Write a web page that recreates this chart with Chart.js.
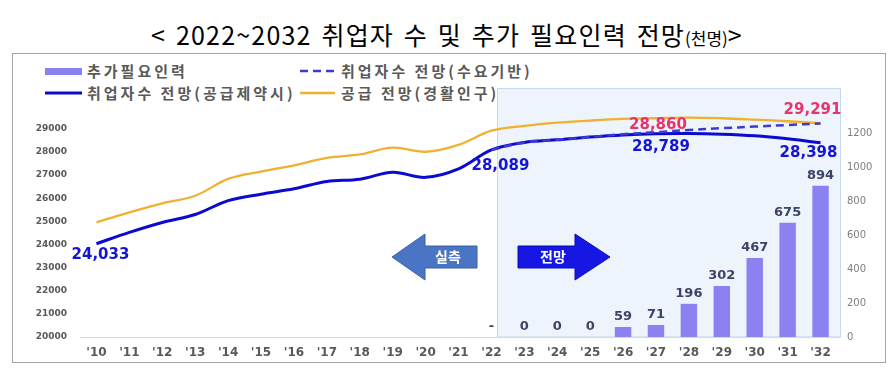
<!DOCTYPE html>
<html><head><meta charset="utf-8">
<script src="https://cdn.jsdelivr.net/npm/chart.js@4"></script>
<style>
body{margin:0;background:#fff;}
#wrap{position:relative;width:894px;height:370px;overflow:hidden;font-family:"Noto Sans CJK KR",sans-serif;}
#frame{position:absolute;left:12px;top:53px;width:874px;height:310px;border:1px solid #a6a6a6;box-sizing:border-box;}
#title{position:absolute;left:0;top:17px;width:894px;text-align:center;font-size:25px;color:#000;line-height:34px;white-space:nowrap;letter-spacing:1.2px;word-spacing:3px;}
#title small{font-size:17px;letter-spacing:0;}
.lg{position:absolute;font-size:15px;font-weight:700;color:#595959;letter-spacing:3px;line-height:20px;white-space:nowrap;}
canvas{position:absolute;left:0;top:0;}
</style></head>
<body>
<div id="wrap">
  <div id="frame"></div>
  <div id="title">&lt; 2022~2032 취업자 수 및 추가 필요인력 전망<small>(천명)</small>&gt;</div>
  <div class="lg" style="left:87px;top:61px;">추가필요인력</div>
  <div class="lg" style="left:341px;top:61px;">취업자수 전망(수요기반)</div>
  <div class="lg" style="left:87px;top:83px;">취업자수 전망(공급제약시)</div>
  <div class="lg" style="left:341px;top:83px;">공급 전망(경활인구)</div>
  <canvas id="c" width="894" height="370"></canvas>
</div>
<script>
const categories = ["'10","'11","'12","'13","'14","'15","'16","'17","'18","'19","'20","'21","'22","'23","'24","'25","'26","'27","'28","'29","'30","'31","'32"];
const employedSupplyConstrained = [24033,24527,24955,25299,25897,26178,26409,26725,26822,27123,26904,27273,28089,28416,28530,28650,28740,28789,28800,28770,28700,28570,28398];
const employedDemandBased = [null,null,null,null,null,null,null,null,null,null,null,null,28089,28416,28530,28650,28770,28860,28950,29030,29100,29170,29230];
const laborSupply = [24956,25389,25781,26108,26836,27153,27418,27748,27895,28186,28012,28310,28922,29130,29270,29360,29430,29460,29490,29460,29400,29330,29245];
const additionalNeed = [null,null,null,null,null,null,null,null,null,null,null,null,null,0,0,0,59,71,196,302,467,675,894];
const barLabels = ["","","","","","","","","","","","","-","0","0","0","59","71","196","302","467","675","894"];
const leftTicks = [20000,21000,22000,23000,24000,25000,26000,27000,28000,29000];
const rightTicks = [0,200,400,600,800,1000,1200];
const lineLabels = [
  {ds:1, i:0,  text:"24,033", color:"#1414d6", dx:4,   dy:11},
  {ds:1, i:12, text:"28,089", color:"#1414d6", dx:9,   dy:16},
  {ds:1, i:17, text:"28,789", color:"#1414d6", dx:5,   dy:13},
  {ds:1, i:22, text:"28,398", color:"#1414d6", dx:-12, dy:10},
  {ds:2, i:17, text:"28,860", color:"#e8336d", dx:2,   dy:-7},
  {ds:2, i:22, text:"29,291", color:"#e8336d", dx:-8,  dy:-13}
];

function arrow(ctx, pts, fill, stroke){
  ctx.beginPath();
  pts.forEach((p,k)=>k?ctx.lineTo(p[0],p[1]):ctx.moveTo(p[0],p[1]));
  ctx.closePath();
  ctx.fillStyle=fill; ctx.fill();
  ctx.strokeStyle=stroke; ctx.lineWidth=1; ctx.stroke();
}

const decor = {
  id:'decor',
  beforeDatasetsDraw(chart){
    const {ctx, chartArea, scales:{x}} = chart;
    const left = Math.round(x.getPixelForValue(12)+6)+0.5;
    const right = chartArea.right+3.5;
    ctx.save();
    ctx.fillStyle='#eef4fb';
    ctx.fillRect(left,88.5,right-left,337-88.5);
    ctx.strokeStyle='#c6d9f0'; ctx.lineWidth=1;
    ctx.strokeRect(left,88.5,right-left,337-88.5);
    ctx.beginPath(); ctx.moveTo(chartArea.left,337.5); ctx.lineTo(right,337.5);
    ctx.strokeStyle='#d9d9d9'; ctx.stroke();
    ctx.restore();
  },
  afterDatasetsDraw(chart){
    const {ctx, scales:{x,y2}} = chart;
    ctx.save();
    arrow(ctx, [[392,257],[425,234],[425,246],[477,246],[477,268],[425,268],[425,280]], '#4a74c4', '#3b62a8');
    arrow(ctx, [[518,246],[575,246],[575,234],[610,257],[575,280],[575,268],[518,268]], '#1717e3', '#0d0db8');
    ctx.fillStyle='#fff'; ctx.font='bold 14px "Noto Sans CJK KR"';
    ctx.textAlign='center'; ctx.textBaseline='middle';
    ctx.fillText('실측',448,257);
    ctx.fillText('전망',553,257);
    ctx.font='bold 13px "DejaVu Sans"'; ctx.fillStyle='#3a4466';
    barLabels.forEach((t,i)=>{
      if(!t) return;
      const v = additionalNeed[i]||0;
      ctx.fillText(t, x.getPixelForValue(i), y2.getPixelForValue(v)-10);
    });
    ctx.font='bold 15px "DejaVu Sans"';
    lineLabels.forEach(l=>{
      const el = chart.getDatasetMeta(l.ds).data[l.i];
      ctx.fillStyle=l.color;
      ctx.fillText(l.text, el.x+l.dx, el.y+l.dy);
    });
    ctx.restore();
  },
  afterDraw(chart){
    const ctx = chart.ctx;
    ctx.save();
    ctx.fillStyle='#8a82f0'; ctx.fillRect(45,68,37,7);
    ctx.lineCap='butt';
    ctx.strokeStyle='#0b0bd0'; ctx.lineWidth=3;
    ctx.beginPath(); ctx.moveTo(45,93); ctx.lineTo(82,93); ctx.stroke();
    ctx.strokeStyle='#3b3bd2'; ctx.lineWidth=2.5; ctx.setLineDash([8,5]);
    ctx.beginPath(); ctx.moveTo(300,71); ctx.lineTo(335,71); ctx.stroke();
    ctx.setLineDash([]);
    ctx.strokeStyle='#f0b030'; ctx.lineWidth=2.5;
    ctx.beginPath(); ctx.moveTo(300,93); ctx.lineTo(335,93); ctx.stroke();
    ctx.restore();
  }
};

new Chart(document.getElementById('c'), {
  data:{
    labels: categories,
    datasets:[
      {type:'bar', label:'추가필요인력', data:additionalNeed, yAxisID:'y2', backgroundColor:'#8a82f0', barPercentage:0.5, categoryPercentage:1, order:4},
      {type:'line', label:'취업자수 전망(공급제약시)', data:employedSupplyConstrained, yAxisID:'y', borderColor:'#0b0bd0', borderWidth:3, pointRadius:0, tension:0.35, order:2},
      {type:'line', label:'취업자수 전망(수요기반)', data:employedDemandBased, yAxisID:'y', borderColor:'#3b3bd2', borderWidth:2.5, borderDash:[8,5], pointRadius:0, tension:0.35, order:1},
      {type:'line', label:'공급 전망(경활인구)', data:laborSupply, yAxisID:'y', borderColor:'#f0b030', borderWidth:2.3, pointRadius:0, tension:0.35, order:3}
    ]
  },
  options:{
    responsive:false, animation:false, devicePixelRatio:1,
    layout:{padding:{top:100,left:0,right:0,bottom:0}},
    plugins:{legend:{display:false}, tooltip:{enabled:false}},
    scales:{
      x:{grid:{display:false,drawTicks:false}, border:{display:false},
         ticks:{font:{family:'DejaVu Sans',size:12,weight:'bold'}, color:'#595959', padding:9, maxRotation:0, autoSkip:false},
         afterFit(s){s.height=33;}},
      y:{position:'left', min:20000, max:30250, grid:{display:false,drawTicks:false}, border:{display:false},
         afterBuildTicks(s){s.ticks=leftTicks.map(v=>({value:v}));},
         ticks:{font:{family:'DejaVu Sans',size:9,weight:'bold'}, color:'#595959', padding:13, callback:v=>String(v)},
         afterFit(s){s.width=80;}},
      y2:{position:'right', min:0, max:1400, grid:{display:false,drawTicks:false}, border:{display:false},
         afterBuildTicks(s){s.ticks=rightTicks.map(v=>({value:v}));},
         ticks:{font:{family:'DejaVu Sans',size:10}, color:'#7f7f7f', padding:10, callback:v=>String(v)},
         afterFit(s){s.width=57;}}
    }
  },
  plugins:[decor]
});
</script>
</body></html>
